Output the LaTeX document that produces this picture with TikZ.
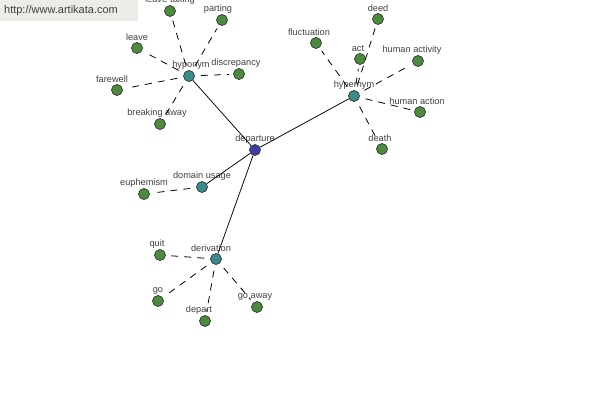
\documentclass[tikz,border=0pt]{standalone}
\usepackage{fontspec}
\setmainfont{Liberation Sans}
\usepackage{tikz}

\definecolor{rootblue}{RGB}{62,62,160}
\definecolor{relteal}{RGB}{58,140,140}
\definecolor{leafgreen}{RGB}{76,138,62}
\definecolor{lblgray}{RGB}{64,64,64}
\definecolor{boxgray}{RGB}{236,236,232}

\tikzset{
  word/.style={circle,draw=black!80,line width=.7pt,minimum size=11pt,inner sep=0pt},
  rootword/.style={word,fill=rootblue},
  relword/.style={word,fill=relteal},
  leafword/.style={word,fill=leafgreen},
  lbl/.style={text=lblgray,font=\fontsize{9.2}{10}\selectfont,inner sep=1pt},
  solidlink/.style={line width=.75pt},
  dashlink/.style={line width=.8pt,dash pattern=on 7pt off 6pt,shorten <=6pt,shorten >=4pt}
}

\begin{document}
\begin{tikzpicture}[x=1pt,y=-1pt]
\useasboundingbox (0,0) rectangle (600,400);
\fill[white] (0,0) rectangle (600,400);
\fill[boxgray] (0,0) rectangle (138,21);
\node[text=lblgray,font=\fontsize{11}{12}\selectfont] (site) at (61,11) {http://www.artikata.com};

% centre and relations
\node[rootword,label={[lbl]above:departure}] (departure) at (255,150) {};
\node[relword,label={[lbl,xshift=2pt]above:hyponym}] (hyponym) at (189,76) {};
\node[relword,label={[lbl]above:hypernym}] (hypernym) at (354,96) {};
\node[relword,label={[lbl]above:domain usage}] (domain) at (202,187) {};
\node[relword,label={[lbl,xshift=-5pt]above:derivation}] (derivation) at (216,259) {};

% hyponyms
\node[leafword,label={[lbl]above:leave-taking}] (leavetaking) at (170,11) {};
\node[leafword,label={[lbl,xshift=-4pt]above:parting}] (parting) at (222,20) {};
\node[leafword,label={[lbl]above:leave}] (leave) at (137,48) {};
\node[leafword,label={[lbl,xshift=-3pt]above:discrepancy}] (discrepancy) at (239,74) {};
\node[leafword,label={[lbl,xshift=-5pt]above:farewell}] (farewell) at (117,90) {};
\node[leafword,label={[lbl,xshift=-3pt]above:breaking away}] (breaking) at (160,124) {};

% hypernyms
\node[leafword,label={[lbl,xshift=-7pt]above:fluctuation}] (fluctuation) at (316,43) {};
\node[leafword,label={[lbl]above:deed}] (deed) at (378,19) {};
\node[leafword,label={[lbl,xshift=-2pt]above:act}] (act) at (360,59) {};
\node[leafword,label={[lbl,xshift=-6pt]above:human activity}] (activity) at (418,61) {};
\node[leafword,label={[lbl,xshift=-3pt]above:human action}] (action) at (420,112) {};
\node[leafword,label={[lbl,xshift=-2pt]above:death}] (death) at (382,149) {};

% domain usage
\node[leafword,label={[lbl]above:euphemism}] (euphemism) at (144,194) {};

% derivations
\node[leafword,label={[lbl,xshift=-3pt]above:quit}] (quit) at (160,255) {};
\node[leafword,label={[lbl]above:go}] (go) at (158,301) {};
\node[leafword,label={[lbl,xshift=-6pt]above:depart}] (depart) at (205,321) {};
\node[leafword,label={[lbl,xshift=-2pt]above:go away}] (goaway) at (257,307) {};

\draw[solidlink] (departure) -- (hyponym);
\draw[solidlink] (departure) -- (hypernym);
\draw[solidlink] (departure) -- (domain);
\draw[solidlink] (departure) -- (derivation);

\foreach \n in {leavetaking,parting,leave,discrepancy,farewell,breaking}
  \draw[dashlink] (hyponym) -- (\n);
\foreach \n in {fluctuation,deed,act,activity,action,death}
  \draw[dashlink] (hypernym) -- (\n);
\draw[dashlink] (domain) -- (euphemism);
\foreach \n in {quit,go,depart,goaway}
  \draw[dashlink] (derivation) -- (\n);
\end{tikzpicture}
\end{document}
